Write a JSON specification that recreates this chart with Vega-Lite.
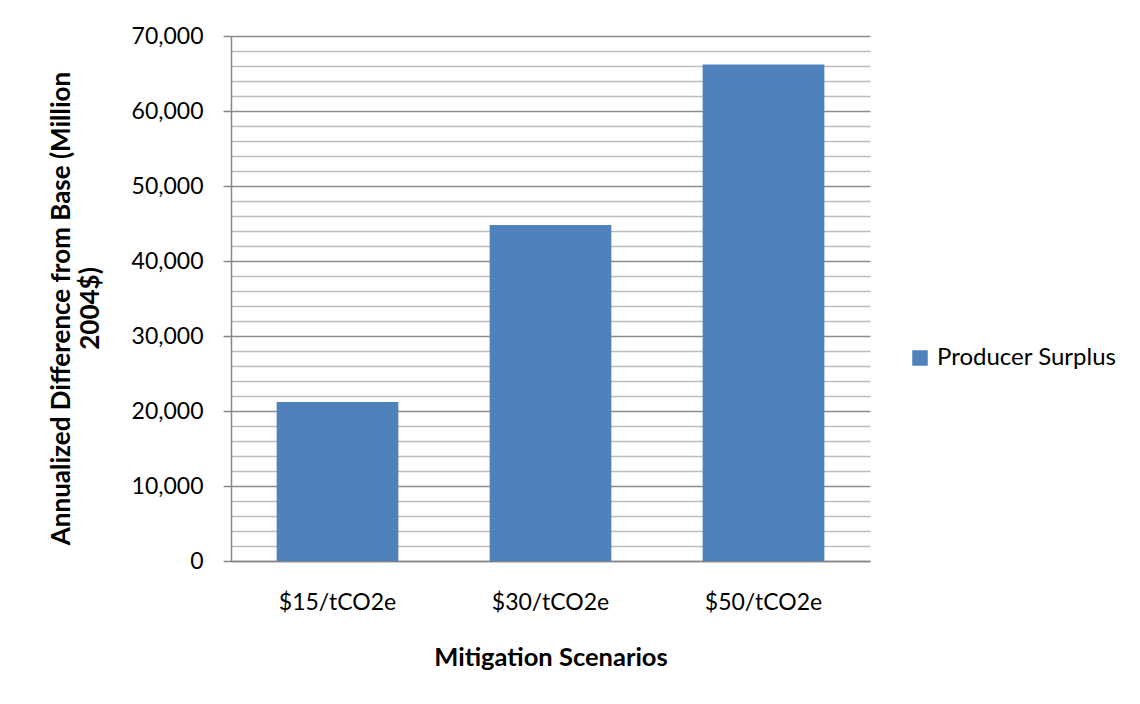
{
  "$schema": "https://vega.github.io/schema/vega-lite/v6.json",
  "autosize": "none",
  "width": 639,
  "height": 525,
  "padding": {"left": 231, "top": 36, "right": 270, "bottom": 143},
  "background": "white",
  "config": {
    "font": "Lato",
    "view": {"stroke": null},
    "axis": {"labelColor": "#000000", "titleColor": "#000000", "domainColor": "#868686", "domainWidth": 1.5}
  },
  "data": {
    "values": [
      {"scenario": "$15/tCO2e", "series": "Producer Surplus", "value": 21200},
      {"scenario": "$30/tCO2e", "series": "Producer Surplus", "value": 44800},
      {"scenario": "$50/tCO2e", "series": "Producer Surplus", "value": 66200}
    ]
  },
  "mark": {"type": "bar"},
  "encoding": {
    "x": {
      "field": "scenario",
      "type": "nominal",
      "sort": null,
      "scale": {"paddingInner": 0.4286, "paddingOuter": 0.2143},
      "axis": {
        "title": "Mitigation Scenarios",
        "titleFontSize": 25.5,
        "titleFontWeight": "bold",
        "titlePadding": 31,
        "labelAngle": 0,
        "labelFontSize": 23,
        "labelPadding": 30,
        "ticks": false
      }
    },
    "y": {
      "field": "value",
      "type": "quantitative",
      "scale": {"domain": [0, 70000], "nice": false},
      "axis": {
        "title": ["Annualized Difference from Base (Million", "2004$)"],
        "titleFontSize": 26,
        "titleFontWeight": "bold",
        "titleAngle": -90,
        "titleAlign": "center",
        "titleBaseline": "top",
        "titleLineHeight": 29,
        "titleX": -183,
        "titleY": 272,
        "values": [0, 2000, 4000, 6000, 8000, 10000, 12000, 14000, 16000, 18000, 20000, 22000, 24000, 26000, 28000, 30000, 32000, 34000, 36000, 38000, 40000, 42000, 44000, 46000, 48000, 50000, 52000, 54000, 56000, 58000, 60000, 62000, 64000, 66000, 68000, 70000],
        "labelExpr": "datum.value % 10000 === 0 ? format(datum.value, ',') : ''",
        "labelFontSize": 23,
        "labelPadding": 20,
        "tickSize": 8,
        "tickColor": "#868686",
        "tickWidth": 1.5,
        "tickOpacity": {"condition": {"test": "datum.value % 10000 === 0", "value": 1}, "value": 0},
        "grid": true,
        "gridWidth": 1.4,
        "gridColor": {"condition": {"test": "datum.value % 10000 === 0", "value": "#8c8c8c"}, "value": "#bdbdbd"}
      }
    },
    "color": {
      "field": "series",
      "type": "nominal",
      "scale": {"range": ["#4f81bd"]},
      "legend": {
        "title": null,
        "orient": "none",
        "legendX": 677,
        "legendY": 310,
        "symbolType": "square",
        "symbolSize": 240,
        "symbolStrokeWidth": 0,
        "symbolOpacity": 1,
        "labelFontSize": 24,
        "labelLimit": 0,
        "labelColor": "#000000",
        "labelOffset": 5
      }
    }
  }
}
